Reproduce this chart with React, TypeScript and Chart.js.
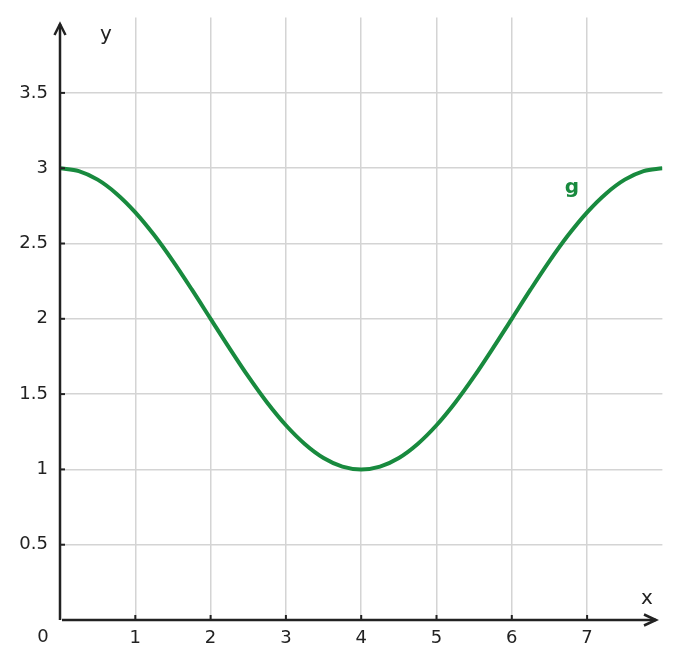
import React, { useEffect, useRef } from "react";
import { Chart, registerables } from "chart.js";

Chart.register(...registerables);

const xValues = [0, 0.25, 0.5, 0.75, 1, 1.25, 1.5, 1.75, 2, 2.25, 2.5, 2.75, 3, 3.25, 3.5, 3.75, 4, 4.25, 4.5, 4.75, 5, 5.25, 5.5, 5.75, 6, 6.25, 6.5, 6.75, 7, 7.25, 7.5, 7.75, 8];
const gValues = [
  3, 2.981, 2.924, 2.831, 2.707, 2.556, 2.383, 2.195, 2.0, 1.805, 1.617, 1.444, 1.293, 1.169, 1.076, 1.019,
  1.0, 1.019, 1.076, 1.169, 1.293, 1.444, 1.617, 1.805, 2.0, 2.195, 2.383, 2.556, 2.707, 2.831, 2.924, 2.981, 3,
];
const xTicks = [1, 2, 3, 4, 5, 6, 7];
const yTicks = [0.5, 1, 1.5, 2, 2.5, 3, 3.5];
const seriesName = "g";

const GREEN = "#188a3e";
const AXIS = "#222222";
const GRID = "#d4d4d4";
const FONT = "'DejaVu Sans', sans-serif";

const axesPlugin = {
  id: "axesPlugin",
  afterDatasetsDraw(chart: any) {
    const ctx = chart.ctx;
    const xs = chart.scales.x;
    const ys = chart.scales.y;
    const x0 = xs.getPixelForValue(0);
    const y0 = ys.getPixelForValue(0);
    ctx.save();
    ctx.strokeStyle = AXIS;
    ctx.fillStyle = AXIS;
    ctx.lineWidth = 2.5;
    ctx.lineCap = "butt";
    // y axis
    ctx.beginPath();
    ctx.moveTo(x0, y0);
    ctx.lineTo(x0, 24);
    ctx.stroke();
    ctx.beginPath();
    ctx.moveTo(x0 - 5.5, 35);
    ctx.lineTo(x0, 24);
    ctx.lineTo(x0 + 5.5, 35);
    ctx.stroke();
    // x axis
    ctx.beginPath();
    ctx.moveTo(x0 + 2, y0);
    ctx.lineTo(656, y0);
    ctx.stroke();
    ctx.beginPath();
    ctx.moveTo(644, y0 - 5.5);
    ctx.lineTo(656, y0);
    ctx.lineTo(644, y0 + 5.5);
    ctx.stroke();
    // ticks
    ctx.lineWidth = 2;
    for (const t of yTicks) {
      const py = ys.getPixelForValue(t);
      ctx.beginPath();
      ctx.moveTo(x0, py);
      ctx.lineTo(x0 + 5, py);
      ctx.stroke();
    }
    for (const t of xTicks) {
      const px = xs.getPixelForValue(t);
      ctx.beginPath();
      ctx.moveTo(px, y0);
      ctx.lineTo(px, y0 - 5);
      ctx.stroke();
    }
    // labels
    ctx.font = `20px ${FONT}`;
    ctx.textAlign = "center";
    ctx.textBaseline = "middle";
    ctx.fillStyle = AXIS;
    ctx.fillText("y", 106, 35);
    ctx.fillText("x", 647, 599);
    ctx.font = `18px ${FONT}`;
    ctx.fillText("0", 43, 637);
    ctx.font = `bold 20px ${FONT}`;
    ctx.fillStyle = GREEN;
    ctx.fillText(seriesName, 572, 188);
    ctx.restore();
  },
};

export default function App() {
  const ref = useRef<HTMLCanvasElement>(null);
  useEffect(() => {
    if (!ref.current) return;
    const chart = new Chart(ref.current, {
      type: "line",
      data: {
        datasets: [
          {
            label: seriesName,
            data: xValues.map((x, i) => ({ x, y: gValues[i] })),
            borderColor: GREEN,
            borderWidth: 4,
            pointRadius: 0,
            fill: false,
            cubicInterpolationMode: "monotone",
          },
        ],
      },
      options: {
        animation: false,
        responsive: false,
        layout: { padding: { top: 17.6, right: 17.6, left: 0, bottom: 0 } },
        plugins: { legend: { display: false }, tooltip: { enabled: false } },
        scales: {
          x: {
            type: "linear",
            min: 0,
            max: 8,
            border: { display: false },
            grid: {
              color: (c: any) => (c.tick && (c.tick.value === 0 || c.tick.value === 8) ? "rgba(0,0,0,0)" : GRID),
              lineWidth: 1.5,
              drawTicks: false,
            },
            ticks: {
              stepSize: 1,
              padding: 8,
              color: AXIS,
              font: { family: FONT, size: 18 },
              maxRotation: 0,
              callback: (v: any) => (v === 0 || v === 8 ? "" : String(v)),
            },
            afterFit: (s: any) => {
              s.height = 48;
              s.paddingLeft = 0;
              s.paddingRight = 0;
            },
          },
          y: {
            type: "linear",
            min: 0,
            max: 4,
            border: { display: false },
            grid: {
              color: (c: any) => (c.tick && (c.tick.value === 0 || c.tick.value === 4) ? "rgba(0,0,0,0)" : GRID),
              lineWidth: 1.5,
              drawTicks: false,
            },
            ticks: {
              stepSize: 0.5,
              padding: 12,
              color: AXIS,
              font: { family: FONT, size: 18 },
              callback: (v: any) => (v === 0 || v === 4 ? "" : String(v)),
            },
            afterFit: (s: any) => {
              s.width = 60;
              s.paddingTop = 0;
              s.paddingBottom = 0;
            },
          },
        },
      },
      plugins: [axesPlugin],
    } as any);
    return () => chart.destroy();
  }, []);
  return (
    <div style={{ position: "absolute", left: 0, top: 0, width: 680, height: 668, background: "#fff" }}>
      <canvas ref={ref} width={680} height={668} style={{ width: 680, height: 668, display: "block" }} />
    </div>
  );
}
